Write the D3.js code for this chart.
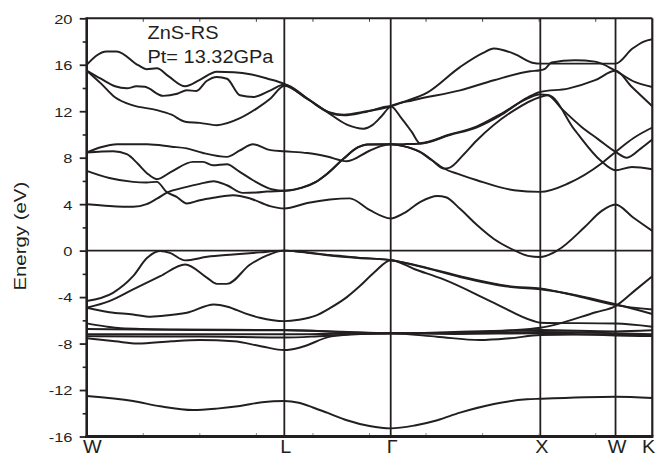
<!DOCTYPE html>
<html>
<head>
<meta charset="utf-8">
<script src="https://cdn.jsdelivr.net/npm/d3@7"></script>
<style>
  html, body { margin: 0; padding: 0; background: #fff; }
  svg { display: block; }
  text { font-family: "Liberation Sans", Arial, Helvetica, sans-serif; fill: #231f20; }
</style>
</head>
<body>
<svg id="chart" width="657" height="456"></svg>
<script>
// High-symmetry path of the Brillouin zone (path coordinate on a 0..10 axis)
const kLabels = ["W", "L", "Γ", "X", "W", "K"];
const kPoints = [0, 3.494, 5.375, 8.02, 9.35, 10];

// Energy axis ticks (eV)
const energyTicks = [-16, -12, -8, -4, 0, 4, 8, 12, 16, 20];
const energyMinor = [-14, -10, -6, -2, 2, 6, 10, 14, 18];

const titleLines = ["ZnS-RS", "Pt= 13.32GPa"];
const yTitle = "Energy (eV)";

// Bands: [k, E] pairs along W-L-Γ-X-W-K
const band01 = [[0,16.0],[0.35,17.15],[0.53,17.15],[0.91,15.96],[1.06,15.62],[1.24,15.7],[1.45,15.0],[1.74,14.15],[2.0,14.7],[2.3,15.4],[2.6,15.35],[2.89,15.18],[3.2,14.8],[3.494,14.35],
  [3.9,13.1],[4.3,11.9],[4.55,11.7],[4.9,11.95],[5.375,12.43],
  [5.6,12.8],[6.02,13.6],[6.6,15.8],[7.0,17.0],[7.2,17.4],[7.55,16.96],[7.9,16.15],[8.02,16.1],
  [8.6,16.1],[9.35,16.1],[9.65,17.4],[9.85,18.0],[10,18.2]];
const band02 = [[0,15.5],[0.25,14.8],[0.5,14.15],[0.71,13.97],[0.88,14.15],[1.03,14.1],[1.35,13.32],[1.6,13.5],[1.77,13.8],[1.94,13.75],[2.12,14.6],[2.3,14.95],[2.48,14.8],[2.71,13.38],[2.95,13.23],[3.25,13.8],[3.494,14.3],
  [3.9,13.1],[4.25,11.94],[4.6,10.85],[4.9,10.5],[5.05,10.8],[5.2,11.5],[5.375,12.43],
  [5.77,12.95],[6.6,13.8],[7.2,14.67],[7.84,15.44],[8.02,15.53],
  [8.1,15.65],[8.22,16.2],[8.63,16.39],[8.99,16.27],[9.35,15.48],[9.69,14.52],[10,14.08]];
const band03 = [[0,15.5],[0.25,14.4],[0.5,13.2],[0.82,12.5],[1.24,12.1],[1.5,11.7],[1.74,11.1],[2.0,11.0],[2.3,10.8],[2.71,11.4],[3.01,12.25],[3.25,13.1],[3.494,14.2],
  [3.9,13.05],[4.3,11.85],[4.55,11.65],[4.9,11.9],[5.375,12.43],
  [5.55,11.5],[5.75,10.2],[5.893,9.25],[6.42,10.0],[6.9,10.7],[7.3,11.7],[7.8,13.1],[8.02,13.45],
  [8.15,13.4],[8.4,12.2],[8.75,10.65],[9.04,9.6],[9.35,8.5],[9.55,8.0],[9.8,8.8],[10,9.56]];
const band04 = [[0,8.45],[0.25,8.9],[0.54,9.16],[1.07,9.16],[1.5,8.95],[1.77,8.8],[2.06,8.4],[2.48,8.07],[2.7,8.6],[2.94,9.16],[3.25,8.65],[3.494,8.55],
  [3.9,8.4],[4.25,8.1],[4.6,7.7],[5.0,8.6],[5.2,9.0],[5.375,9.16],
  [5.6,9.17],[5.893,9.2],[6.42,9.95],[6.9,10.62],[7.3,11.6],[7.8,13.2],[8.02,13.66],
  [8.51,13.95],[8.99,14.67],[9.35,15.48],[9.64,14.08],[10,12.43]];
const band05 = [[0,8.45],[0.47,8.56],[0.71,8.3],[0.9,7.5],[1.07,6.65],[1.24,6.15],[1.5,6.8],[1.88,7.64],[2.06,7.64],[2.23,7.35],[2.48,7.44],[2.7,6.8],[2.94,6.06],[3.29,5.26],[3.494,5.15],
  [3.8,5.4],[4.05,5.9],[4.25,6.6],[4.54,7.9],[4.8,8.9],[4.96,9.14],[5.375,9.16],
  [5.6,9.0],[5.893,8.5],[6.1,7.8],[6.317,7.07],[6.6,6.55],[6.9,6.06],[7.555,5.2],[8.02,5.06],
  [8.51,5.78],[9.1,7.5],[9.35,8.5],[9.67,9.7],[10,10.6]];
const band06 = [[0,4.0],[0.4,3.85],[0.82,3.77],[1.06,4.0],[1.25,4.5],[1.41,4.97],[1.77,5.49],[2.0,5.75],[2.24,5.98],[2.48,5.63],[2.76,4.97],[3.0,5.0],[3.18,5.09],[3.494,5.15],
  [3.8,5.42],[4.05,5.92],[4.25,6.62],[4.54,7.92],[4.8,8.9],[4.96,9.14],[5.375,9.16],
  [5.6,9.0],[5.893,8.5],[6.1,7.8],[6.317,7.07],[6.42,7.15],[6.65,8.2],[6.9,9.5],[7.555,12.08],[8.02,13.23],
  [8.16,13.38],[8.63,10.37],[9.08,7.78],[9.35,6.92],[9.64,7.2],[10,7.01]];
const band07 = [[0,6.87],[0.4,6.25],[0.82,5.92],[1.06,5.87],[1.24,5.92],[1.41,5.06],[1.59,4.63],[1.77,4.06],[2.0,4.34],[2.24,4.55],[2.59,4.77],[2.89,4.49],[3.24,3.83],[3.494,3.63],
  [3.9,4.1],[4.3,4.4],[4.65,4.5],[5.0,3.5],[5.375,2.77],
  [5.6,3.2],[5.9,4.2],[6.2,4.7],[6.35,4.6],[6.6,3.6],[6.9,2.2],[7.2,1.0],[7.55,0.05],[7.8,-0.45],[8.02,-0.55],
  [8.33,0.04],[8.81,2.05],[9.1,3.4],[9.35,3.97],[9.65,2.9],[10,1.7]];
const band08 = [[0,-4.34],[0.465,-3.63],[0.82,-2.2],[1.07,-0.62],[1.3,-0.04],[1.47,-0.19],[1.74,-0.84],[2.13,-0.53],[2.59,-0.33],[3.06,-0.15],[3.494,0],
  [3.8,-0.1],[4.3,-0.38],[4.8,-0.6],[5.375,-0.82],
  [6.02,-1.48],[6.6,-2.2],[7.55,-3.1],[8.02,-3.25],
  [8.67,-3.91],[9.35,-4.69],[10,-5.06]];
const band09 = [[0,-4.92],[0.4,-4.35],[0.82,-3.34],[1.3,-2.2],[1.74,-1.19],[2.13,-2.34],[2.3,-2.86],[2.48,-2.86],[2.89,-1.19],[3.19,-0.41],[3.494,0],
  [3.8,-0.13],[4.3,-0.43],[4.8,-0.63],[5.375,-0.82],
  [6.02,-1.53],[6.6,-2.27],[7.55,-3.16],[8.02,-3.32],
  [8.67,-3.85],[9.35,-4.62],[10,-5.45]];
const band10 = [[0,-4.92],[0.4,-5.3],[0.82,-5.49],[1.13,-5.69],[1.3,-5.63],[1.77,-5.35],[2.25,-4.63],[2.49,-4.83],[2.8,-5.4],[3.06,-5.78],[3.494,-6.07],
  [3.75,-5.95],[4.05,-5.6],[4.3,-4.95],[4.6,-4.0],[4.83,-3.05],[5.1,-1.8],[5.375,-0.82],
  [5.8,-1.6],[6.31,-2.48],[7.2,-4.49],[7.9,-6.06],[8.02,-6.2],
  [9.35,-6.28],[10,-6.55]];
const band11 = [[0,-6.26],[0.3,-6.5],[0.6,-6.68],[1.5,-6.78],[3.494,-6.84],[4.5,-6.98],[5.375,-7.12],
  [6.5,-7.0],[7.5,-6.85],[8.02,-6.64],[9.0,-5.3],[9.35,-4.77],[9.7,-3.4],[10,-2.2]];
const band12 = [[0,-6.75],[1.0,-6.8],[3.494,-6.86],[4.5,-7.0],[5.375,-7.12],[6.5,-7.06],[8.02,-6.84],[9.35,-6.95],[10,-6.85]];
const band13 = [[0,-7.2],[2.0,-7.2],[3.494,-7.2],[4.5,-7.15],[5.375,-7.12],[6.5,-7.12],[8.02,-7.0],[9.35,-7.1],[10,-7.2]];
const band14 = [[0,-7.36],[1.0,-7.4],[2.0,-7.4],[3.494,-7.48],[4.2,-7.35],[5.375,-7.12],[6.5,-7.17],[8.02,-7.12],[9.35,-7.3],[10,-7.36]];
const band15 = [[0,-7.55],[0.5,-7.8],[0.9,-8.0],[1.5,-7.8],[2.0,-7.7],[2.6,-7.8],[3.1,-8.25],[3.494,-8.56],
  [3.8,-8.3],[4.3,-7.4],[4.8,-7.15],[5.375,-7.12],[6.19,-7.41],[6.95,-7.7],[7.48,-7.55],[8.02,-7.27],[9.35,-7.2],[10,-7.3]];
const band16 = [[0,-12.52],[0.82,-12.95],[1.3,-13.4],[1.88,-13.72],[2.3,-13.6],[2.71,-13.38],[3.1,-13.05],[3.494,-12.95],
  [3.75,-13.1],[4.0,-13.5],[4.25,-13.95],[4.6,-14.6],[5.0,-15.1],[5.375,-15.3],
  [5.8,-15.05],[6.2,-14.6],[6.6,-13.95],[7.2,-13.2],[7.785,-12.8],[8.02,-12.75],[9.35,-12.57],[10,-12.69]];

const bands = [band01, band02, band03, band04, band05, band06, band07, band08,
               band09, band10, band11, band12, band13, band14, band15, band16];

// ---- layout ----
const plot = { left: 86.7, right: 652.3, top: 18.3, bottom: 436.5 };
const ink = "#231f20";

const svg = d3.select("#chart");

const x = d3.scaleLinear().domain([kPoints[0], kPoints[kPoints.length - 1]]).range([plot.left, plot.right]);
const y = d3.scaleLinear().domain([energyTicks[0], energyTicks[energyTicks.length - 1]]).range([plot.bottom, plot.top]);

svg.append("defs").append("clipPath").attr("id", "plotClip")
  .append("rect")
  .attr("x", plot.left).attr("y", plot.top)
  .attr("width", plot.right - plot.left).attr("height", plot.bottom - plot.top);

// symmetry-point verticals
svg.append("g").selectAll("line")
  .data(kPoints.slice(1, -1))
  .join("line")
  .attr("x1", d => x(d)).attr("x2", d => x(d))
  .attr("y1", plot.top).attr("y2", plot.bottom)
  .attr("stroke", ink).attr("stroke-width", 1.8);

// Fermi level
svg.append("line")
  .attr("x1", plot.left).attr("x2", plot.right)
  .attr("y1", y(0)).attr("y2", y(0))
  .attr("stroke", ink).attr("stroke-width", 1.8);

// bands
const bandLine = d3.line()
  .x(d => x(d[0]))
  .y(d => y(d[1]))
  .curve(d3.curveMonotoneX);

svg.append("g").attr("clip-path", "url(#plotClip)")
  .selectAll("path")
  .data(bands)
  .join("path")
  .attr("d", bandLine)
  .attr("fill", "none")
  .attr("stroke", ink)
  .attr("stroke-width", 1.95)
  .attr("stroke-linejoin", "round");

// small inward ticks along the k axis (top and bottom)
const kTicks = d3.range(1, 10);
svg.append("g").selectAll("line.kt")
  .data(kTicks).join("line")
  .attr("x1", d => x(d)).attr("x2", d => x(d))
  .attr("y1", plot.top).attr("y2", plot.top + 3.5)
  .attr("stroke", "#444").attr("stroke-width", 1);
svg.append("g").selectAll("line.kb")
  .data(kTicks).join("line")
  .attr("x1", d => x(d)).attr("x2", d => x(d))
  .attr("y1", plot.bottom).attr("y2", plot.bottom - 3.5)
  .attr("stroke", "#888").attr("stroke-width", 1);

// frame
svg.append("line").attr("x1", plot.left).attr("x2", plot.right).attr("y1", plot.top).attr("y2", plot.top)
  .attr("stroke", ink).attr("stroke-width", 2);
svg.append("line").attr("x1", plot.right).attr("x2", plot.right).attr("y1", plot.top).attr("y2", plot.bottom)
  .attr("stroke", ink).attr("stroke-width", 2.2);
svg.append("line").attr("x1", plot.left).attr("x2", plot.left).attr("y1", plot.top - 1).attr("y2", plot.bottom + 1.4)
  .attr("stroke", ink).attr("stroke-width", 2.6);
svg.append("line").attr("x1", plot.left - 1.3).attr("x2", plot.right + 1.1).attr("y1", plot.bottom).attr("y2", plot.bottom)
  .attr("stroke", ink).attr("stroke-width", 2.8);

// energy axis
const yAxis = d3.axisLeft(y)
  .tickValues(energyTicks)
  .tickSize(7)
  .tickFormat(d => String(d));
const gy = svg.append("g").attr("transform", `translate(${plot.left},0)`).call(yAxis);
gy.select(".domain").remove();
gy.selectAll(".tick line").attr("stroke", ink).attr("stroke-width", 1.8);
gy.selectAll(".tick text")
  .attr("x", 0)
  .attr("dy", "0.36em")
  .attr("transform", "translate(-14.2,0) scale(1.22,1)")
  .attr("font-size", 13.5)
  .attr("fill", ink)
  .attr("text-anchor", "end")
  .style("font-family", "'Liberation Sans', Arial, sans-serif");

const yMinorAxis = d3.axisLeft(y).tickValues(energyMinor).tickSize(4).tickFormat("");
const gym = svg.append("g").attr("transform", `translate(${plot.left},0)`).call(yMinorAxis);
gym.select(".domain").remove();
gym.selectAll(".tick line").attr("stroke", ink).attr("stroke-width", 1.6);

// k-point labels
svg.append("g").selectAll("text")
  .data(kLabels.map((t, i) => ({ t, k: kPoints[i], i })))
  .join("text")
  .attr("transform", d => {
    let px = x(d.k) + 1.5;
    if (d.i === 0) px = x(d.k) - 3.8;
    if (d.i === kLabels.length - 1) px = x(d.k) + 2.8;
    return `translate(${px},453) scale(1.1,1)`;
  })
  .attr("text-anchor", d => d.i === 0 ? "start" : (d.i === kLabels.length - 1 ? "end" : "middle"))
  .attr("font-size", 18)
  .text(d => d.t);

// energy axis title
svg.append("text")
  .attr("transform", `translate(25.7,236.2) rotate(-90) scale(1.2,1)`)
  .attr("text-anchor", "middle")
  .attr("font-size", 17)
  .text(yTitle);

// in-plot annotation
svg.append("g").selectAll("text")
  .data(titleLines)
  .join("text")
  .attr("transform", (d, i) => `translate(147.5,${39.3 + i * 24}) scale(1.11,1)`)
  .attr("font-size", 18)
  .text(d => d);
</script>
</body>
</html>
